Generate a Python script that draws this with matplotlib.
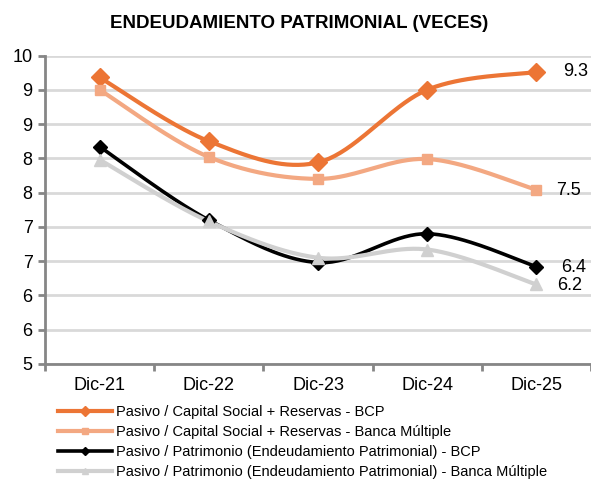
import math
import numpy as np
import matplotlib
matplotlib.use("Agg")
import matplotlib.pyplot as plt
from matplotlib.ticker import FixedLocator, FuncFormatter

# --- data ---
categories = ["Dic-21", "Dic-22", "Dic-23", "Dic-24", "Dic-25"]

capital_bcp = [9.18, 8.25, 7.94, 9.00, 9.26]
capital_banca = [9.00, 8.02, 7.70, 7.99, 7.54]
patrimonio_bcp = [8.17, 7.10, 6.48, 6.90, 6.42]
patrimonio_banca = [7.98, 7.08, 6.55, 6.67, 6.16]

series_labels = [
    "Pasivo / Capital Social + Reservas - BCP",
    "Pasivo / Capital Social + Reservas - Banca Múltiple",
    "Pasivo / Patrimonio (Endeudamiento Patrimonial) - BCP",
    "Pasivo / Patrimonio (Endeudamiento Patrimonial) - Banca Múltiple",
]

plt.rcParams["font.family"] = ["Liberation Sans", "DejaVu Sans"]

# style per series: colour, marker, marker size, line width, label offset (px)
styles = [
    ("#EC7535", "D", 9, 3.0, (27, 0)),
    ("#F3A882", "s", 6.5, 3.0, (20, -1)),
    ("#000000", "D", 7, 2.6, (25, -1)),
    ("#D0D0D0", "^", 8, 3.0, (21, -1)),
]


def smooth(xs, ys, n=40):
    # Excel-style smoothed line: cubic bezier with catmull-rom control points
    pts = np.column_stack([xs, ys]).astype(float)
    out = [pts[0]]
    for i in range(len(pts) - 1):
        p0 = pts[max(i - 1, 0)]
        p1 = pts[i]
        p2 = pts[i + 1]
        p3 = pts[min(i + 2, len(pts) - 1)]
        c1 = p1 + (p2 - p0) / 6.0
        c2 = p2 - (p3 - p1) / 6.0
        t = np.linspace(0, 1, n)[1:, None]
        seg = ((1 - t) ** 3) * p1 + 3 * ((1 - t) ** 2) * t * c1 + 3 * (1 - t) * t ** 2 * c2 + t ** 3 * p2
        out.extend(seg)
    out = np.array(out)
    return out[:, 0], out[:, 1]


W, H = 591, 479
fig = plt.figure(figsize=(W / 100, H / 100), dpi=100)
ax = fig.add_axes([45 / W, (H - 364) / H, 546 / W, (364 - 55.5) / H])

x = np.arange(len(categories))
all_series = [capital_bcp, capital_banca, patrimonio_bcp, patrimonio_banca]

for vals, lab, (col, mk, ms, lw, off) in zip(all_series, series_labels, styles):
    sx, sy = smooth(x, vals)
    ax.plot(sx, sy, color=col, lw=lw, solid_capstyle="round", zorder=3)
    ax.plot(x, vals, ls="none", marker=mk, ms=ms, color=col, mec=col, zorder=4)
    # legend proxy
    ax.plot([], [], color=col, lw=lw, marker=mk, ms=ms * 0.6, label=lab)
    ax.annotate(f"{vals[-1]:.1f}", (x[-1], vals[-1]), xytext=(off[0] * 0.72, off[1] * 0.72),
                textcoords="offset points", ha="left", va="center", fontsize=13)

ax.set_xlim(-0.5, len(categories) - 0.5)
ax.set_ylim(5, 9.5)
ax.yaxis.set_major_locator(FixedLocator(np.arange(5, 9.51, 0.5)))
ax.yaxis.set_major_formatter(FuncFormatter(lambda v, p: str(int(math.floor(v + 0.5)))))
ax.set_xticks(x)
ax.set_xticklabels(categories)
ax.set_xticks(np.arange(-0.5, len(categories)), minor=True)
ax.tick_params(axis="x", which="major", length=0, labelsize=13, pad=9)
ax.tick_params(axis="x", which="minor", length=5, width=2, color="#868686", direction="out")
ax.tick_params(axis="y", length=5, width=2, color="#868686", labelsize=13, pad=4)

ax.grid(axis="y", color="#D9D9D9", lw=2)
ax.set_axisbelow(True)
for s in ["top", "right"]:
    ax.spines[s].set_visible(False)
for s in ["left", "bottom"]:
    ax.spines[s].set_color("#868686")
    ax.spines[s].set_linewidth(2)

fig.text(299 / W, 1 - 23 / H, "ENDEUDAMIENTO PATRIMONIAL (VECES)", ha="center", va="center",
         fontsize=13.5, fontweight="bold")

fig.legend(loc="upper left", bbox_to_anchor=(58 / W, 1 - 405 / H), frameon=False,
           fontsize=10.5, handlelength=3.7, handletextpad=0.3, labelspacing=0.42,
           borderpad=0, borderaxespad=0)

fig.savefig("out.png", dpi=100)
